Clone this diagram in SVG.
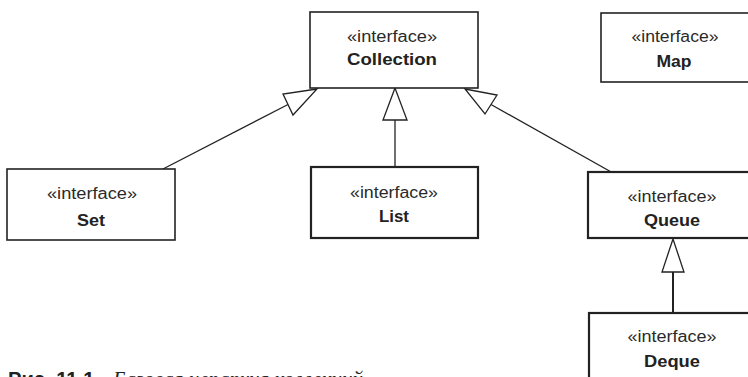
<svg xmlns="http://www.w3.org/2000/svg" width="748" height="377" viewBox="0 0 748 377">
  <style>
    .box { fill: #ffffff; stroke: #222222; stroke-width: 1.6; }
    .box.thick { stroke-width: 2.2; }
    .stereo { font-family: "Liberation Sans", Arial, sans-serif; font-size: 16px; fill: #2a2a2a; text-anchor: middle; }
    .name { font-family: "Liberation Sans", Arial, sans-serif; font-size: 17px; font-weight: bold; fill: #222222; text-anchor: middle; }
    .edge { fill: none; stroke: #222222; stroke-width: 1.3; }
    .head { fill: #ffffff; stroke: #222222; stroke-width: 1.3; stroke-linejoin: miter; }
    .cap-num { font-family: "Liberation Sans", Arial, sans-serif; font-size: 20px; font-weight: bold; fill: #222222; }
    .cap-txt { font-family: "Liberation Serif", "Times New Roman", serif; font-size: 21px; font-style: italic; fill: #222222; }
  </style>
  <rect width="748" height="377" fill="#ffffff"/>

  <!-- generalization connectors with hollow triangle heads -->
  <g id="connectors">
    <line class="edge" x1="163" y1="169" x2="288" y2="104.5"/>
    <polygon class="head" points="317,89 283,94 293,115"/>

    <line class="edge" x1="395" y1="167" x2="395" y2="120"/>
    <polygon class="head" points="395,88 383,120 407,120"/>

    <line class="edge" x1="613" y1="173" x2="491" y2="104.5"/>
    <polygon class="head" points="465,89 497,95 485,114"/>

    <line class="edge" x1="673" y1="313" x2="673" y2="272" style="stroke-width:2"/>
    <polygon class="head" points="673,239 662,272 684,272"/>
  </g>

  <g id="collection">
    <rect class="box" x="310" y="12" width="168" height="76"/>
    <text class="stereo" x="392" y="42" textLength="90" lengthAdjust="spacingAndGlyphs">«interface»</text>
    <text class="name" x="392" y="65" textLength="90" lengthAdjust="spacingAndGlyphs">Collection</text>
  </g>

  <g id="map">
    <rect class="box" x="601" y="13" width="150" height="69"/>
    <text class="stereo" x="675" y="42" textLength="87" lengthAdjust="spacingAndGlyphs">«interface»</text>
    <text class="name" x="674" y="67" textLength="35" lengthAdjust="spacingAndGlyphs">Map</text>
  </g>

  <g id="set">
    <rect class="box" x="7" y="169" width="168" height="71"/>
    <text class="stereo" x="92" y="199" textLength="90" lengthAdjust="spacingAndGlyphs">«interface»</text>
    <text class="name" x="91" y="226" textLength="28" lengthAdjust="spacingAndGlyphs">Set</text>
  </g>

  <g id="list">
    <rect class="box thick" x="311" y="167" width="167" height="71"/>
    <text class="stereo" x="394" y="198" textLength="88" lengthAdjust="spacingAndGlyphs">«interface»</text>
    <text class="name" x="394" y="222" textLength="30" lengthAdjust="spacingAndGlyphs">List</text>
  </g>

  <g id="queue">
    <rect class="box thick" x="588" y="172" width="162" height="66"/>
    <text class="stereo" x="672" y="202" textLength="89" lengthAdjust="spacingAndGlyphs">«interface»</text>
    <text class="name" x="672" y="226" textLength="56" lengthAdjust="spacingAndGlyphs">Queue</text>
  </g>

  <g id="deque">
    <rect class="box thick" x="589" y="313" width="161" height="80"/>
    <text class="stereo" x="672" y="342" textLength="89" lengthAdjust="spacingAndGlyphs">«interface»</text>
    <text class="name" x="672" y="367" textLength="56" lengthAdjust="spacingAndGlyphs">Deque</text>
  </g>

  <!-- figure caption -->
  <text class="cap-num" x="8" y="386" textLength="92" lengthAdjust="spacingAndGlyphs">Рис. 11.1.</text>
  <text class="cap-txt" x="113" y="386">Базовая иерархия коллекций</text>
</svg>
